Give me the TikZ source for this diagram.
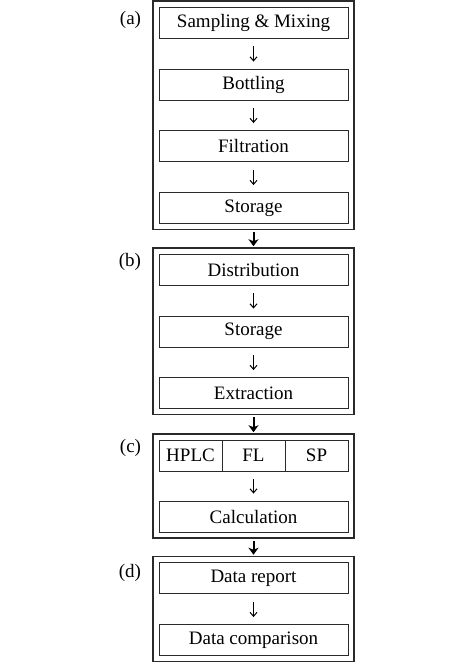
\documentclass[tikz,border=0pt]{standalone}
\usepackage{fontspec}
\setmainfont{Liberation Serif}
\usetikzlibrary{fit,arrows.meta}
\definecolor{framegray}{HTML}{2A2A2A}
\tikzset{
    stepbox/.style={draw=framegray,line width=0.9pt,minimum width=189pt,minimum height=31pt,inner sep=0pt,font=\fontsize{19}{22}\selectfont},
    cellbox/.style={stepbox,minimum width=63pt},
    stagebox/.style={draw=framegray,line width=1.6pt,inner sep=5.5pt},
    stagelabel/.style={anchor=north east,inner sep=0pt,font=\fontsize{19}{22}\selectfont},
    steparrow/.style={-{Straight Barb[length=4pt,width=7pt]},line width=1pt,shorten <=8pt,shorten >=7pt},
    stagearrow/.style={-{Stealth[length=7pt,width=10pt,inset=2pt]},line width=2pt,shorten <=2pt,shorten >=1pt}
}
\begin{document}
\begin{tikzpicture}[x=1pt,y=-1pt]
                    \useasboundingbox (0,0) rectangle (474,664);
                    \node[stepbox] (mix) at (253.5,22.5) {Sampling \& Mixing};
                    \node[stepbox] (bottle) at (253.5,84.5) {Bottling};
                    \node[stepbox] (filter) at (253.5,146) {Filtration};
                    \node[stepbox] (store) at (253.5,208) {Storage};
                    \node[stepbox] (distrib) at (253.5,269.5) {Distribution};
                    \node[stepbox] (store2) at (253.5,331.5) {Storage};
                    \node[stepbox] (extract) at (253.5,393) {Extraction};
                    \node[cellbox] (hplc) at (190.5,455.5) {HPLC};
                    \node[cellbox] (fl) at (253.5,455.5) {FL};
                    \node[cellbox] (sp) at (316.5,455.5) {SP};
                    \node[stepbox] (calc) at (253.5,516.5) {Calculation};
                    \node[stepbox] (report) at (253.5,578) {Data report};
                    \node[stepbox] (compare) at (253.5,640) {Data comparison};
                    \node[stagebox,fit=(mix)(store)] (sa) {};
                    \node[stagebox,fit=(distrib)(extract)] (sb) {};
                    \node[stagebox,fit=(hplc)(sp)(calc)] (sc) {};
                    \node[stagebox,fit=(report)(compare)] (sd) {};
                    \node[stagelabel] at ([xshift=-11pt,yshift=-11pt]sa.north west) {(a)};
                    \node[stagelabel] at ([xshift=-11pt,yshift=-6pt]sb.north west) {(b)};
                    \node[stagelabel] at ([xshift=-11pt,yshift=-6pt]sc.north west) {(c)};
                    \node[stagelabel] at ([xshift=-11pt,yshift=-8pt]sd.north west) {(d)};
                    \draw[steparrow] (mix) -- (bottle);
                    \draw[steparrow] (bottle) -- (filter);
                    \draw[steparrow] (filter) -- (store);
                    \draw[steparrow] (distrib) -- (store2);
                    \draw[steparrow] (store2) -- (extract);
                    \draw[steparrow] (fl) -- (calc);
                    \draw[steparrow] (report) -- (compare);
                    \draw[stagearrow] (sa) -- (sb);
                    \draw[stagearrow] (sb) -- (sc);
                    \draw[stagearrow] (sc) -- (sd);
                \end{tikzpicture}
\end{document}
